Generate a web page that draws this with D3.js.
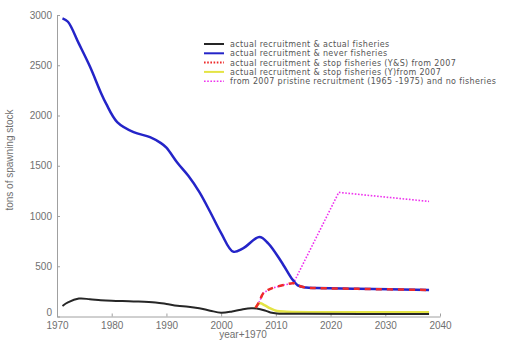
<!DOCTYPE html>
<html lang="en">
<head>
	<meta charset="UTF-8">
	<title>Spawning stock</title>
	<style>
		html, body { margin: 0; background: #fff; }
		svg text { font-family: 'Liberation Sans', Arial, sans-serif; }
	</style>
	<script src="https://d3js.org/d3.v7.min.js"></script>
</head>
<body>
	<svg id="chart" width="507" height="342"></svg>
	<script>
		// series values (year, tons)
		const actualYears = [1971, 1972, 1974, 1976, 1978, 1980, 1984, 1988, 1990, 1992, 1994, 1996, 1998, 2000, 2002, 2004, 2005.5, 2006.5, 2008, 2009, 2010.2, 2015, 2038];
		const actualValues = [105, 140, 178, 172, 162, 156, 150, 140, 125, 107, 98, 82, 58, 38, 50, 72, 82, 80, 60, 40, 30, 27, 25];

		const neverYears = [1971, 1972, 1974, 1976, 1978, 1979, 1981, 1984, 1987, 1989, 1990, 1992, 1994, 1996, 1998, 2000, 2002.2, 2004, 2007, 2008.6, 2011, 2013, 2014, 2015.5, 2017.5, 2025, 2038];
		const neverValues = [2967, 2933, 2715, 2490, 2230, 2115, 1935, 1835, 1785, 1725, 1680, 1530, 1400, 1240, 1040, 830, 645, 678, 790, 728, 545, 370, 310, 288, 283, 275, 264];

		const stopYSYears = [2006.3, 2007, 2007.7, 2009, 2011.4, 2013.2, 2014, 2015.5, 2017.5, 2025, 2038];
		const stopYSValues = [85, 150, 231, 275, 313, 330, 310, 288, 283, 275, 264];

		const stopYYears = [2006.2, 2007.1, 2008, 2009, 2010.2, 2012, 2038];
		const stopYValues = [82, 131, 110, 80, 55, 48, 42];

		const pristineYears = [2006.3, 2007, 2007.7, 2008.5, 2009.5, 2011.4, 2013.2, 2021.5, 2038];
		const pristineValues = [85, 150, 231, 262, 285, 313, 330, 1235, 1145];

		const legendLabels = [
			'actual recruitment & actual fisheries',
			'actual recruitment & never fisheries',
			'actual recruitment & stop fisheries (Y&S) from 2007',
			'actual recruitment & stop fisheries (Y)from 2007',
			'from 2007 pristine recruitment (1965 -1975) and no fisheries'
		];
		const xTicks = [1970, 1980, 1990, 2000, 2010, 2020, 2030, 2040];
		const yTicks = [0, 500, 1000, 1500, 2000, 2500, 3000];

		const zip = (xs, ys) => xs.map((x, i) => ({ x, y: ys[i] }));

		const series = [
			{ data: zip(actualYears, actualValues), color: '#262626', width: 2, dash: null, curve: d3.curveCatmullRom },
			{ data: zip(neverYears, neverValues), color: '#2424c8', width: 2.5, dash: null, curve: d3.curveCatmullRom },
			{ data: zip(stopYSYears, stopYSValues), color: '#ee2a2a', width: 2.5, dash: '6,5', curve: d3.curveCatmullRom },
			{ data: zip(stopYYears, stopYValues), color: '#e4e444', width: 2.5, dash: null, curve: d3.curveCatmullRom },
			{ data: zip(pristineYears, pristineValues), color: '#ee33ee', width: 1.6, dash: '1.6,1.6', curve: d3.curveLinear }
		];
		// drawing order: pristine, yellow, black, blue, red on top
		const drawOrder = [4, 3, 0, 1, 2];

		const svg = d3.select('#chart');
		const x = d3.scaleLinear().domain([1970, 2040]).range([57, 440]);
		const y = d3.scaleLinear().domain([0, 3000]).range([316.5, 15]);
		const axisColor = '#a0a0a0';
		const textColor = '#707070';

		// axes
		const xAxis = svg.append('g').attr('transform', 'translate(0,316.5)')
			.call(d3.axisBottom(x).tickValues(xTicks).tickFormat(d3.format('d')).tickSizeInner(-3).tickSizeOuter(0).tickPadding(5));
		const yAxis = svg.append('g').attr('transform', 'translate(57,0)')
			.call(d3.axisLeft(y).tickValues(yTicks).tickFormat(d3.format('d')).tickSizeInner(-3).tickSizeOuter(0).tickPadding(5));
		[xAxis, yAxis].forEach(g => {
			g.select('.domain').attr('stroke', axisColor);
			g.selectAll('.tick line').attr('stroke', axisColor);
			g.selectAll('.tick text').attr('fill', textColor).attr('font-size', 10)
				.style('font-family', "'Liberation Sans', Arial, sans-serif");
		});
		yAxis.selectAll('.tick text').filter(d => d === 0).attr('dy', '-0.1em');

		// lines
		drawOrder.forEach(i => {
			const s = series[i];
			const line = d3.line().x(d => x(d.x)).y(d => y(d.y)).curve(s.curve);
			svg.append('path')
				.datum(s.data)
				.attr('fill', 'none')
				.attr('stroke', s.color)
				.attr('stroke-width', s.width)
				.attr('stroke-dasharray', s.dash)
				.attr('d', line);
		});

		// axis titles
		svg.append('text')
			.attr('x', 243).attr('y', 338)
			.attr('text-anchor', 'middle')
			.attr('font-size', 10).attr('fill', textColor)
			.text('year+1970');
		svg.append('text')
			.attr('transform', 'translate(13,160) rotate(-90)')
			.attr('text-anchor', 'middle')
			.attr('font-size', 10).attr('fill', textColor)
			.text('tons of spawning stock');

		// legend: wide, short font so rows don't collide
		const legend = svg.append('g').attr('transform', 'translate(204,44)');
		legendLabels.forEach((label, i) => {
			const s = series[i];
			const row = legend.append('g').attr('transform', `translate(0,${i * 9.3})`);
			row.append('line')
				.attr('x1', 0).attr('x2', 20).attr('y1', 0).attr('y2', 0)
				.attr('stroke', s.color)
				.attr('stroke-width', i === 4 ? 1.6 : 2)
				.attr('stroke-dasharray', i === 2 || i === 4 ? '1.6,1.6' : null);
			row.append('text')
				.attr('x', 26).attr('y', 3)
				.attr('font-size', 8)
				.attr('letter-spacing', 0.35)
				.attr('fill', '#555')
				.style('font-family', "'DejaVu Sans', sans-serif")
				.text(label);
		});
	</script>
</body>
</html>
